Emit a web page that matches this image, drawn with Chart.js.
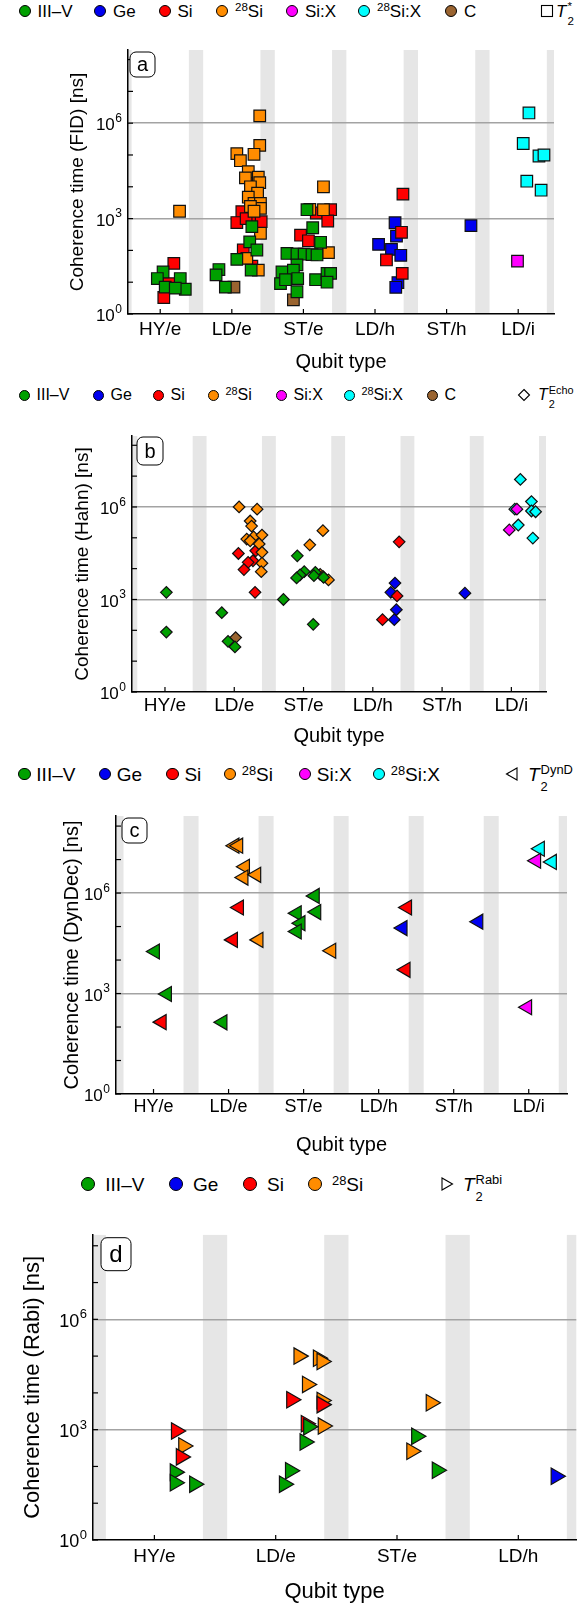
<!DOCTYPE html>
<html>
<head>
<meta charset="utf-8">
<script src="https://cdn.jsdelivr.net/npm/chart.js@4.4.0/dist/chart.umd.min.js"></script>
<style>
body{margin:0;background:#fff;width:587px;height:1604px;position:relative;overflow:hidden;font-family:"Liberation Sans",Arial,sans-serif;}
canvas{position:absolute;left:0;}
.dot{position:absolute;border-radius:50%;border:1.2px solid #000;box-sizing:border-box;z-index:2;}
.lt{position:absolute;transform:translateY(-50%);line-height:1;white-space:nowrap;z-index:2;color:#000;}
.sp{font-size:.68em;position:relative;top:-.45em;}
.ss{position:relative;display:inline-block;font-size:.68em;margin-left:1px;}
.ss .up{position:relative;top:-.55em;}
.ss .dn{position:absolute;left:0;top:.75em;}
.sym{position:absolute;z-index:2;}
</style>
</head>
<body>
<script>
const FAM = '"Liberation Sans", Arial, sans-serif';

// qubit types (x categories)
const catsFull = ['HY/e', 'LD/e', 'ST/e', 'LD/h', 'ST/h', 'LD/i'];
const catsRabi = ['HY/e', 'LD/e', 'ST/e', 'LD/h'];

// y ticks
const decades = [1, 1e1, 1e2, 1e3, 1e4, 1e5, 1e6, 1e7, 1e8];
const yLabelVals = [1, 1e3, 1e6];
const yLabelExp = ['0', '3', '6'];

// materials
const matNames = ['III\u2013V', 'Ge', 'Si', '<span class="sp">28</span>Si', 'Si:X', '<span class="sp">28</span>Si:X', 'C'];
const matColors = ['#00a000', '#0000f0', '#ff0000', '#ff8c00', '#ff00ff', '#00ffff', '#9a6430'];
const matOrder = [0, 3, 2, 1, 4, 5, 6]; // lower = drawn on top
const rabiOrder = [0, 3, 1, 2];

// (a) FID, T2*  -- [qubit type position, ns]
const fidIIIV = [[0.04,21],[-0.04,13],[0.28,13],[0.35,6],[0.07,7],[0.21,6.5],
  [1.28,560],[1.25,185],[1.35,103],[1.07,52],[1.27,24],[0.82,25],[0.78,17],[0.91,7],
  [2.05,1900],[2.13,515],[2.24,180],[1.77,80],[1.91,78],[2.01,76],[2.12,74],[2.19,72],[1.91,35],
  [1.70,21],[1.86,24],[1.68,9],[1.75,12],[1.92,13],[2.17,12],[2.33,19],[2.38,19],[2.33,10],[1.91,5]];
const fidGe = [[3.28,740],[3.30,280],[3.05,155],[3.23,108],[3.36,70],[3.32,9.7],[3.29,6.9],[4.34,600]];
const fidSi = [[0.19,39],[0.12,9],[0.05,3.3],
  [1.26,1.6e4],[1.14,1650],[1.07,750],[1.30,800],[1.41,800],[1.2,1000],[1.16,103],[1.28,32],
  [2.38,1900],[2.18,1500],[2.34,840],[1.96,300],[2.07,200],
  [3.39,5900],[3.37,370],[3.16,50],[3.38,19]];
const fid28Si = [[0.27,1700],
  [1.39,1.7e6],[1.39,2e5],[1.07,1.1e5],[1.12,6.6e4],[1.31,1.05e5],[1.23,3e4],[1.19,1.9e4],[1.37,2e4],
  [1.39,1.35e4],[1.26,1e4],[1.36,6300],[1.23,4700],[1.31,3000],[1.40,3000],[1.40,2100],[1.26,2400],
  [1.31,1700],[1.40,345],[1.21,56],[1.37,24],
  [2.28,1e4],[2.09,1950],[2.28,1900],[2.35,85]];
const fidSiX = [[4.99,46]];
const fid28SiX = [[5.15,2.1e6],[5.07,2.3e5],[5.29,9.3e4],[5.36,1e5],[5.12,1.5e4],[5.32,7800]];
const fidC = [[1.03,7],[1.86,2.8]];

// (b) Hahn echo
const hahnIIIV = [[0.02,1700],[0.02,88],[0.82,372],[0.91,44],[1.01,29],[1.91,2.6e4],[2.01,8000],
  [1.95,6300],[1.90,5000],[2.17,7600],[2.15,5900],[2.29,5200],[1.71,1000],[2.14,156]];
const hahnGe = [[3.32,3400],[3.26,1700],[3.34,465],[3.31,222],[4.33,1600]];
const hahnSi = [[1.06,3.1e4],[1.31,3.8e4],[1.27,1.8e4],[1.20,1.6e4],[1.14,9300],[1.30,1700],
  [3.38,7.4e4],[3.35,1300],[3.14,222]];
const hahn28Si = [[1.07,1e6],[1.33,8.5e5],[1.23,3.5e5],[1.25,2.4e5],[1.18,9.1e4],[1.28,1.07e5],
  [1.40,1.23e5],[1.23,8e4],[1.36,6.3e4],[1.40,3.4e4],[1.40,1.5e4],[1.39,8000],
  [2.28,1.7e5],[2.09,5.9e4],[2.24,6500],[2.28,5600],[2.36,4300]];
const hahnSiX = [[5.08,8.5e5],[4.97,1.8e5]];
const hahn28SiX = [[5.13,7.8e6],[5.29,1.5e6],[5.05,8.5e5],[5.29,7.4e5],[5.35,7e5],[5.10,2.6e5],[5.31,9.8e4]];
const hahnC = [[1.02,58]];

// (c) dynamical decoupling
const dynIIIV = [[0.02,1.8e4],[0.18,970],[0.92,138],[2.15,8.2e5],[2.17,2.7e5],[1.91,2.5e5],[1.96,1.26e5],[1.91,7.1e4]];
const dynGe = [[3.32,9e4],[4.33,1.4e5]];
const dynSi = [[0.11,140],[1.14,3.7e5],[1.06,4e4],[3.38,3.7e5],[3.36,5100]];
const dyn28Si = [[1.08,2.6e7],[1.13,2.6e7],[1.22,6.1e6],[1.20,2.9e6],[1.37,3.5e6],[1.40,4e4],[2.37,1.9e4]];
const dynSiX = [[5.10,9.2e6],[4.98,390]];
const dyn28SiX = [[5.15,2.1e7],[5.31,8.5e6]];

// (d) Rabi
const rabiIIIV = [[0.17,70],[0.17,36],[0.33,33],[1.27,1200],[1.24,460],[1.12,76],[1.07,33],[2.16,660],[2.33,79]];
const rabiGe = [[3.31,54]];
const rabiSi = [[0.18,920],[0.22,182],[1.13,6500],[1.38,4800],[1.25,1450]];
const rabi28Si = [[0.24,360],[1.19,1e5],[1.35,8.7e4],[1.38,7.1e4],[1.26,1.7e4],[1.38,6200],[1.39,1250],[2.28,5400],[2.12,260]];

const panels = [
  {label:'a', cats:catsFull, ytitle:'Coherence time (FID) [ns]', order:matOrder,
   sets:[fidIIIV, fidGe, fidSi, fid28Si, fidSiX, fid28SiX, fidC],
   style:'rect', r:8.2, rot:0,
   top:40, plotTop:50, plotBottom:314, bottom:376, left:128, right:554, xmin:-0.45, xmax:5.5,
   tick:19, tickPad:4, title:20, titleCenter:362, ytitle_size:19, ytitleX:78, ytick:17,
   box:[2,2,25,25], boxFont:20,
   leg:{cy:10.6, font:17, dot:12, gap:7, xs:[24.6,100,164.5,222,292,364,451], sym:'square', symX:547, tx:556, sup:'*'}},
  {label:'b', cats:catsFull, ytitle:'Coherence time (Hahn) [ns]', order:matOrder,
   sets:[hahnIIIV, hahnGe, hahnSi, hahn28Si, hahnSiX, hahn28SiX, hahnC],
   style:'rectRot', r:5.8, rot:0,
   top:426, plotTop:436, plotBottom:692, bottom:751, left:132, right:546, xmin:-0.476, xmax:5.5,
   tick:19, tickPad:2, title:20, titleCenter:736.5, ytitle_size:19, ytitleX:83, ytick:17,
   box:[5,1,26,28], boxFont:20,
   leg:{cy:395, font:16, dot:11, gap:7, xs:[24,98,158,213,281,349,432], sym:'diamond', symX:524, tx:538, sup:'Echo'}},
  {label:'c', cats:catsFull, ytitle:'Coherence time (DynDec) [ns]', order:matOrder,
   sets:[dynIIIV, dynGe, dynSi, dyn28Si, dynSiX, dyn28SiX],
   style:'triangle', r:8.7, rot:-90,
   top:806, plotTop:816, plotBottom:1094, bottom:1159, left:116, right:567, xmin:-0.5, xmax:5.51,
   tick:18, tickPad:2, title:20, titleCenter:1145, ytitle_size:20, ytitleX:72, ytick:17,
   box:[6,2,25,25], boxFont:20,
   leg:{cy:774, font:19, dot:12.5, gap:5.5, xs:[24.6,105,172.7,230,305,379], sym:'left', symX:512, tx:528, sup:'DynD'}},
  {label:'d', cats:catsRabi, ytitle:'Coherence time (Rabi) [ns]', order:rabiOrder,
   sets:[rabiIIIV, rabiGe, rabiSi, rabi28Si],
   style:'triangle', r:9.5, rot:90,
   top:1224, plotTop:1234, plotBottom:1540, bottom:1604, left:93, right:587, xmin:-0.506, xmax:3.478,
   tick:19, tickPad:5.5, title:22, titleCenter:1592, ytitle_size:22, ytitleX:33, ytick:18,
   box:[8,3,30,33], boxFont:24,
   leg:{cy:1184, font:19, dot:14, gap:10, xs:[88.3,176,250,315], sym:'right', symX:447, tx:463, sup:'Rabi'}}
];

function symSvg(kind, cx, cy) {
  const s = 16;
  let shape = '';
  if (kind === 'square') shape = '<rect x="2.5" y="2.5" width="11" height="11" fill="#fff" stroke="#000" stroke-width="1.1"/>';
  if (kind === 'diamond') shape = '<polygon points="8,2.5 13.5,8 8,13.5 2.5,8" fill="#fff" stroke="#000" stroke-width="1.1"/>';
  if (kind === 'left') shape = '<polygon points="2.5,8 13,2 13,14" fill="#fff" stroke="#000" stroke-width="1.1"/>';
  if (kind === 'right') shape = '<polygon points="13.5,8 3,2 3,14" fill="#fff" stroke="#000" stroke-width="1.1"/>';
  const el = document.createElement('div');
  el.className = 'sym';
  el.style.left = (cx - s / 2) + 'px';
  el.style.top = (cy - s / 2) + 'px';
  el.innerHTML = `<svg width="${s}" height="${s}" viewBox="0 0 16 16">${shape}</svg>`;
  document.body.appendChild(el);
}

function addLegend(p) {
  const L = p.leg;
  L.xs.forEach((cx, i) => {
    const d = document.createElement('div');
    d.className = 'dot';
    d.style.cssText = `left:${cx - L.dot / 2}px;top:${L.cy - L.dot / 2}px;width:${L.dot}px;height:${L.dot}px;background:${matColors[i]}`;
    document.body.appendChild(d);
    const t = document.createElement('div');
    t.className = 'lt';
    t.style.cssText = `left:${cx + L.dot / 2 + L.gap}px;top:${L.cy}px;font-size:${L.font}px`;
    t.innerHTML = matNames[i];
    document.body.appendChild(t);
  });
  symSvg(L.sym, L.symX, L.cy);
  const t = document.createElement('div');
  t.className = 'lt';
  t.style.cssText = `left:${L.tx}px;top:${L.cy}px;font-size:${L.font}px`;
  t.innerHTML = `<i>T</i><span class="ss"><span class="up">${L.sup}</span><span class="dn">2</span></span>`;
  document.body.appendChild(t);
}

const bands = {
  id: 'bands',
  beforeDraw(chart) {
    const {ctx, chartArea: a, scales: {x}} = chart;
    ctx.save();
    ctx.beginPath();
    ctx.rect(a.left, a.top, a.right - a.left, a.bottom - a.top);
    ctx.clip();
    ctx.fillStyle = '#e6e6e6';
    for (let c = -0.5; c - 0.1 < x.max; c += 1) {
      const x0 = x.getPixelForValue(c - 0.1);
      const x1 = x.getPixelForValue(c + 0.1);
      ctx.fillRect(x0, a.top, x1 - x0, a.bottom - a.top);
    }
    ctx.restore();
  }
};

function decor(p) {
  return {
    id: 'decor',
    afterDraw(chart) {
      const {ctx, chartArea: a, scales: {x, y}} = chart;
      ctx.save();
      ctx.strokeStyle = '#000';
      ctx.lineWidth = 1.2;
      decades.forEach(v => {
        const py = y.getPixelForValue(v);
        ctx.beginPath(); ctx.moveTo(a.left, py); ctx.lineTo(a.left + 5, py); ctx.stroke();
      });
      p.cats.forEach((c, i) => {
        const px = x.getPixelForValue(i);
        ctx.beginPath(); ctx.moveTo(px, a.bottom); ctx.lineTo(px, a.bottom - 5); ctx.stroke();
      });
      ctx.fillStyle = '#000';
      ctx.textBaseline = 'middle';
      yLabelVals.forEach((v, i) => {
        const py = y.getPixelForValue(v);
        const e = yLabelExp[i];
        ctx.font = `${Math.round(p.ytick * 0.7)}px ${FAM}`;
        const ew = ctx.measureText(e).width;
        const ex = a.left - 6 - ew;
        ctx.textAlign = 'left';
        ctx.fillText(e, ex, py - 4.5);
        ctx.font = `${p.ytick}px ${FAM}`;
        ctx.textAlign = 'right';
        ctx.fillText('10', ex - 0.5, py + 2.5);
      });
      const [bx, by, bw, bh] = p.box;
      ctx.beginPath();
      ctx.roundRect(a.left + bx, a.top + by, bw, bh, 6);
      ctx.fillStyle = '#fff';
      ctx.fill();
      ctx.lineWidth = 1;
      ctx.stroke();
      ctx.fillStyle = '#000';
      ctx.font = `${p.boxFont}px ${FAM}`;
      ctx.textAlign = 'center';
      ctx.fillText(p.label, a.left + bx + bw / 2, a.top + by + bh / 2 + 1);
      ctx.restore();
    }
  };
}

function makePanel(p) {
  const cv = document.createElement('canvas');
  const h = p.bottom - p.top;
  cv.width = 587; cv.height = h;
  cv.style.top = p.top + 'px';
  cv.style.width = '587px'; cv.style.height = h + 'px';
  document.body.appendChild(cv);
  const datasets = p.sets.map((pts, i) => ({
    label: matNames[i],
    data: pts.map(q => ({x: q[0], y: q[1]})),
    order: p.order[i],
    backgroundColor: matColors[i],
    borderColor: '#111',
    borderWidth: 1.2,
    pointStyle: p.style,
    pointRadius: p.r,
    pointHoverRadius: p.r,
    pointRotation: p.rot
  }));
  new Chart(cv, {
    type: 'scatter',
    data: {datasets},
    options: {
      responsive: false,
      animation: false,
      devicePixelRatio: 1,
      layout: {padding: {left: 0, right: 587 - p.right, top: p.plotTop - p.top, bottom: 0}},
      plugins: {legend: {display: false}, tooltip: {enabled: false}},
      scales: {
        x: {
          type: 'linear', min: p.xmin, max: p.xmax,
          afterBuildTicks: s => { s.ticks = p.cats.map((c, i) => ({value: i})); },
          afterFit: s => { s.height = p.bottom - p.plotBottom; },
          ticks: {
            callback: v => p.cats[v], autoSkip: false, maxRotation: 0,
            color: '#000', padding: p.tickPad, font: {size: p.tick, family: FAM}
          },
          grid: {display: false, drawTicks: false},
          border: {display: true, color: '#000', width: 1.5},
          title: {
            display: true, text: 'Qubit type', color: '#000',
            font: {size: p.title, family: FAM, lineHeight: 1},
            padding: {top: 0, bottom: p.bottom - p.titleCenter - p.title / 2}
          }
        },
        y: {
          type: 'logarithmic', min: 1, max: 2e8,
          afterBuildTicks: s => { s.ticks = decades.map(v => ({value: v})); },
          afterFit: s => { s.width = p.left; },
          ticks: {display: false},
          grid: {
            drawTicks: false, lineWidth: 1.5,
            color: c => (c.tick && (c.tick.value === 1e3 || c.tick.value === 1e6)) ? '#a3a3a3' : 'rgba(0,0,0,0)'
          },
          border: {display: true, color: '#000', width: 1.5},
          title: {
            display: true, text: p.ytitle, color: '#000',
            font: {size: p.ytitle_size, family: FAM, lineHeight: 1},
            padding: {top: p.ytitleX - p.ytitle_size / 2, bottom: 0}
          }
        }
      }
    },
    plugins: [bands, decor(p)]
  });
  addLegend(p);
}

panels.forEach(makePanel);
</script>
</body>
</html>
